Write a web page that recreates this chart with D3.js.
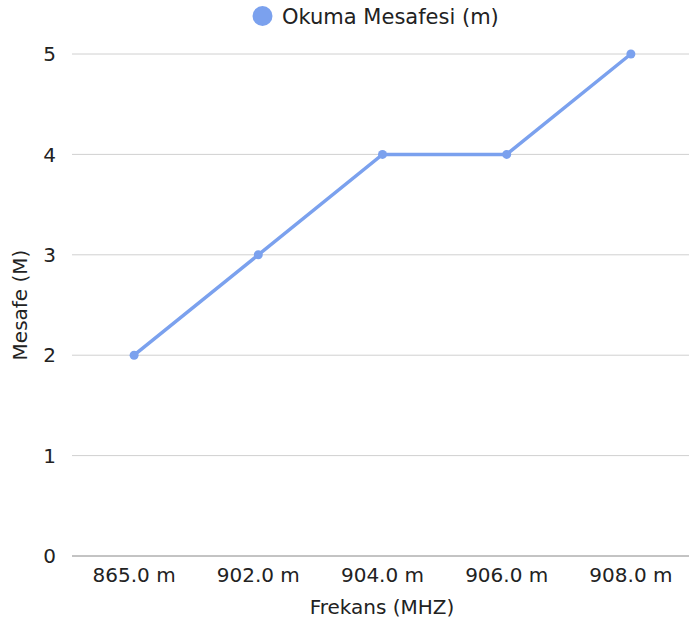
<!DOCTYPE html>
<html>
<head>
<meta charset="utf-8">
<script src="https://cdn.jsdelivr.net/npm/d3@7"></script>
<style>
  body { margin: 0; background: #fff; }
  text { font-family: "DejaVu Sans", sans-serif; fill: #222; }
</style>
</head>
<body>
<div id="chart"></div>
<script>
// veriler
var categories = ["865.0 m", "902.0 m", "904.0 m", "906.0 m", "908.0 m"];
var values = [2, 3, 4, 4, 5];
var yTicks = [0, 1, 2, 3, 4, 5];
var seriesName = "Okuma Mesafesi (m)";

var width = 689, height = 628;
var color = "#7ba1ee";

var svg = d3.select("#chart").append("svg")
    .attr("width", width)
    .attr("height", height);

var x = d3.scalePoint()
    .domain(categories)
    .range([72, 693])
    .padding(0.5);

var y = d3.scaleLinear()
    .domain([0, 5])
    .range([556, 54]);

// grille
svg.selectAll(".grid")
    .data(yTicks)
    .enter()
    .append("line")
    .attr("x1", 72)
    .attr("x2", width)
    .attr("y1", function(d) { return y(d); })
    .attr("y2", function(d) { return y(d); })
    .attr("stroke", function(d) { return d === 0 ? "#888" : "#d0d0d0"; })
    .attr("stroke-width", 1);

// axe y
svg.selectAll(".ylab")
    .data(yTicks)
    .enter()
    .append("text")
    .attr("x", 56)
    .attr("y", function(d) { return y(d); })
    .attr("dy", "0.36em")
    .attr("text-anchor", "end")
    .style("font-size", "20px")
    .text(function(d) { return d; });

// axe x
svg.selectAll(".xlab")
    .data(categories)
    .enter()
    .append("text")
    .attr("x", function(d) { return x(d); })
    .attr("y", 582)
    .attr("text-anchor", "middle")
    .style("font-size", "20px")
    .text(function(d) { return d; });

svg.append("text")
    .attr("x", 382)
    .attr("y", 614)
    .attr("text-anchor", "middle")
    .style("font-size", "20px")
    .text("Frekans (MHZ)");

svg.append("text")
    .attr("transform", "translate(27,305) rotate(-90)")
    .attr("text-anchor", "middle")
    .style("font-size", "20px")
    .text("Mesafe (M)");

// ligne
var line = d3.line()
    .x(function(d, i) { return x(categories[i]); })
    .y(function(d) { return y(d); });

svg.append("path")
    .datum(values)
    .attr("d", line)
    .attr("fill", "none")
    .attr("stroke", color)
    .attr("stroke-width", 3.5);

svg.selectAll(".pt")
    .data(values)
    .enter()
    .append("circle")
    .attr("cx", function(d, i) { return x(categories[i]); })
    .attr("cy", function(d) { return y(d); })
    .attr("r", 4.5)
    .attr("fill", color);

// légende
svg.append("circle")
    .attr("cx", 262.5)
    .attr("cy", 16)
    .attr("r", 10)
    .attr("fill", color);

svg.append("text")
    .attr("x", 282)
    .attr("y", 16)
    .attr("dy", "0.36em")
    .style("font-size", "21px")
    .text(seriesName);
</script>
</body>
</html>
